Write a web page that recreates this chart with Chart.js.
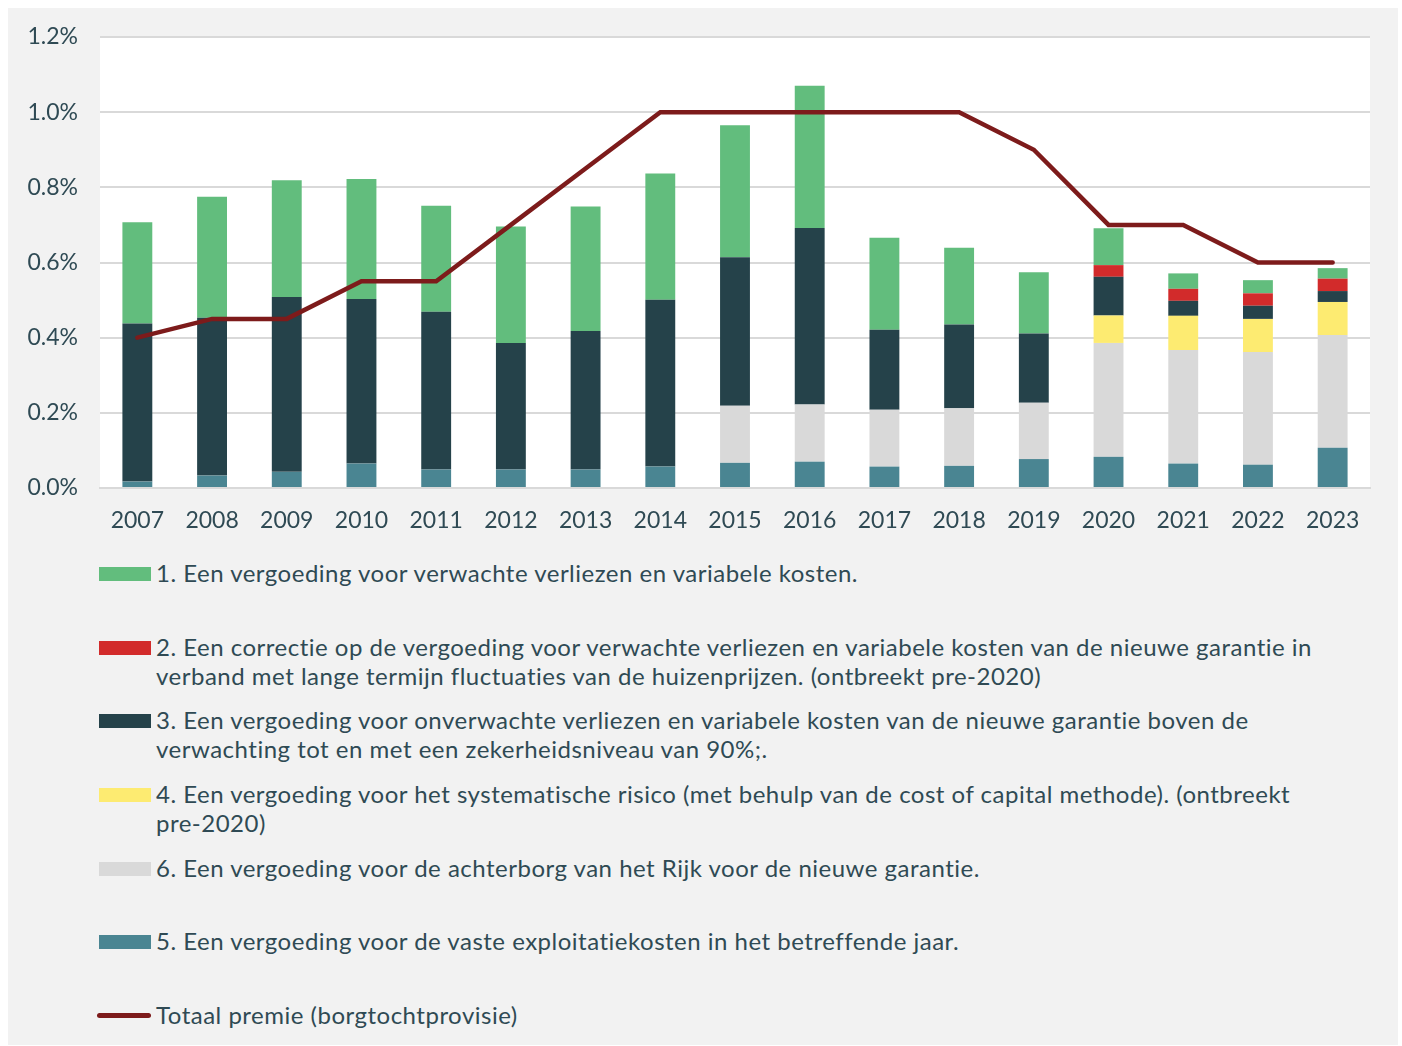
<!DOCTYPE html>
<html>
<head>
<meta charset="utf-8">
<style>
  html, body { margin: 0; padding: 0; background: #ffffff; }
  #panel {
    position: absolute; left: 8px; top: 8px; width: 1390px; height: 1037px;
    background: #f2f2f2; font-family: Lato, sans-serif; color: #2f4a54;
  }
  #chartBox { position: absolute; left: 0; top: 0; width: 1390px; height: 540px; }
  #legend { position: absolute; left: 89px; top: 550px; width: 1295px; margin: 0; padding: 0; list-style: none; }
  #legend li { position: relative; height: 73.7px; padding-left: 59px; font-size: 24px; letter-spacing: 0.5px; line-height: 29px; white-space: pre-line; }
  #legend .sw { position: absolute; left: 2px; top: 9px; width: 52px; height: 14px; }
  #legend .ln { position: absolute; left: 0px; top: 13px; width: 54px; height: 5px; border-radius: 3px; }
</style>
</head>
<body>
<div id="panel">
  <div id="chartBox"><canvas id="premieChart"></canvas></div>
  <ul id="legend"></ul>
</div>

<script src="https://cdn.jsdelivr.net/npm/chart.js"></script>
<script>
    const years = ["2007", "2008", "2009", "2010", "2011", "2012", "2013", "2014", "2015",
                   "2016", "2017", "2018", "2019", "2020", "2021", "2022", "2023"];

    // componenten in % van het geborgde bedrag (van onder naar boven gestapeld)
    const vasteKosten   = [0.017, 0.033, 0.043, 0.065, 0.049, 0.049, 0.049, 0.057, 0.067, 0.070, 0.057, 0.059, 0.077, 0.083, 0.065, 0.062, 0.107];
    const achterborg    = [0, 0, 0, 0, 0, 0, 0, 0, 0.152, 0.152, 0.151, 0.153, 0.150, 0.303, 0.302, 0.300, 0.300];
    const systematisch  = [0, 0, 0, 0, 0, 0, 0, 0, 0, 0, 0, 0, 0, 0.073, 0.091, 0.088, 0.088];
    const onverwacht    = [0.421, 0.420, 0.465, 0.438, 0.420, 0.337, 0.369, 0.444, 0.395, 0.470, 0.213, 0.223, 0.184, 0.103, 0.040, 0.035, 0.029];
    const correctie     = [0, 0, 0, 0, 0, 0, 0, 0, 0, 0, 0, 0, 0, 0.031, 0.032, 0.033, 0.033];
    const verwacht      = [0.269, 0.322, 0.311, 0.319, 0.282, 0.310, 0.331, 0.336, 0.351, 0.378, 0.245, 0.204, 0.163, 0.098, 0.041, 0.035, 0.028];
    const totaalPremie  = [0.40, 0.45, 0.45, 0.55, 0.55, 0.70, 0.85, 1.00, 1.00, 1.00, 1.00, 1.00, 0.90, 0.70, 0.70, 0.60, 0.60];

    const yTicks = [0, 0.2, 0.4, 0.6, 0.8, 1.0, 1.2];

    const labels = {
        verwacht: "1. Een vergoeding voor verwachte verliezen en variabele kosten.",
        correctie: "2. Een correctie op de vergoeding voor verwachte verliezen en variabele kosten van de nieuwe garantie in\nverband met lange termijn fluctuaties van de huizenprijzen. (ontbreekt pre-2020)",
        onverwacht: "3. Een vergoeding voor onverwachte verliezen en variabele kosten van de nieuwe garantie boven de\nverwachting tot en met een zekerheidsniveau van 90%;.",
        systematisch: "4. Een vergoeding voor het systematische risico (met behulp van de cost of capital methode). (ontbreekt\npre-2020)",
        achterborg: "6. Een vergoeding voor de achterborg van het Rijk voor de nieuwe garantie.",
        vasteKosten: "5. Een vergoeding voor de vaste exploitatiekosten in het betreffende jaar.",
        totaal: "Totaal premie (borgtochtprovisie)"
    };

    const colors = {
        verwacht: "#62bd7d",
        correctie: "#d22b2b",
        onverwacht: "#25424a",
        systematisch: "#fdeb71",
        achterborg: "#d9d9d9",
        vasteKosten: "#4a8592",
        totaal: "#7d1b1b"
    };

    const textColor = "#2f4a54";

    function bar(key, values) {
        return {
            type: "bar",
            label: labels[key],
            data: values,
            backgroundColor: colors[key],
            stack: "componenten",
            barPercentage: 0.4,
            categoryPercentage: 1.0
        };
    }

    const chartAreaBg = {
        id: "chartAreaBg",
        beforeDraw(chart) {
            const a = chart.chartArea;
            chart.ctx.save();
            chart.ctx.fillStyle = "#ffffff";
            chart.ctx.fillRect(a.left, a.top, a.right - a.left, a.bottom - a.top);
            chart.ctx.restore();
        }
    };

    const canvas = document.getElementById("premieChart");
    canvas.width = 1390;
    canvas.height = 540;

    const chart = new Chart(canvas.getContext("2d"), {
        data: {
            labels: years,
            datasets: [
                {
                    type: "line",
                    label: labels.totaal,
                    data: totaalPremie,
                    borderColor: colors.totaal,
                    backgroundColor: colors.totaal,
                    borderWidth: 4.5,
                    pointRadius: 0,
                    tension: 0,
                    borderCapStyle: "round",
                    stack: "totaal"
                },
                bar("vasteKosten", vasteKosten),
                bar("achterborg", achterborg),
                bar("systematisch", systematisch),
                bar("onverwacht", onverwacht),
                bar("correctie", correctie),
                bar("verwacht", verwacht)
            ]
        },
        options: {
            responsive: false,
            animation: false,
            layout: { padding: { top: 29, right: 28, left: 0, bottom: 0 } },
            plugins: {
                legend: { display: false },
                tooltip: { enabled: false }
            },
            scales: {
                x: {
                    stacked: true,
                    grid: { display: false },
                    border: { color: "#d9d9d9", width: 2 },
                    ticks: { color: textColor, font: { family: "Lato", size: 23 }, padding: 11 },
                    afterFit(scale) { scale.height = 60; }
                },
                y: {
                    stacked: true,
                    min: 0,
                    max: 1.2,
                    afterBuildTicks(scale) { scale.ticks = yTicks.map(v => ({ value: v })); },
                    grid: { color: "#d9d9d9", lineWidth: 2, drawTicks: false },
                    border: { display: false },
                    ticks: {
                        color: textColor,
                        font: { family: "Lato", size: 23 },
                        padding: 22,
                        callback: v => v.toFixed(1) + "%"
                    },
                    afterFit(scale) {
                        scale.width = 92;
                        scale.paddingTop = 0;
                        scale.paddingBottom = 0;
                    }
                }
            }
        },
        plugins: [chartAreaBg]
    });

    // legenda in de volgorde van het origineel
    const legendOrder = ["verwacht", "correctie", "onverwacht", "systematisch", "achterborg", "vasteKosten", "totaal"];
    const legendEl = document.getElementById("legend");
    legendOrder.forEach(key => {
        const ds = chart.data.datasets.find(d => d.label === labels[key]);
        const li = document.createElement("li");
        const mark = document.createElement("span");
        mark.className = ds.type === "line" ? "ln" : "sw";
        mark.style.background = ds.type === "line" ? ds.borderColor : ds.backgroundColor;
        li.appendChild(mark);
        li.appendChild(document.createTextNode(ds.label));
        legendEl.appendChild(li);
    });
</script>
</body>
</html>
